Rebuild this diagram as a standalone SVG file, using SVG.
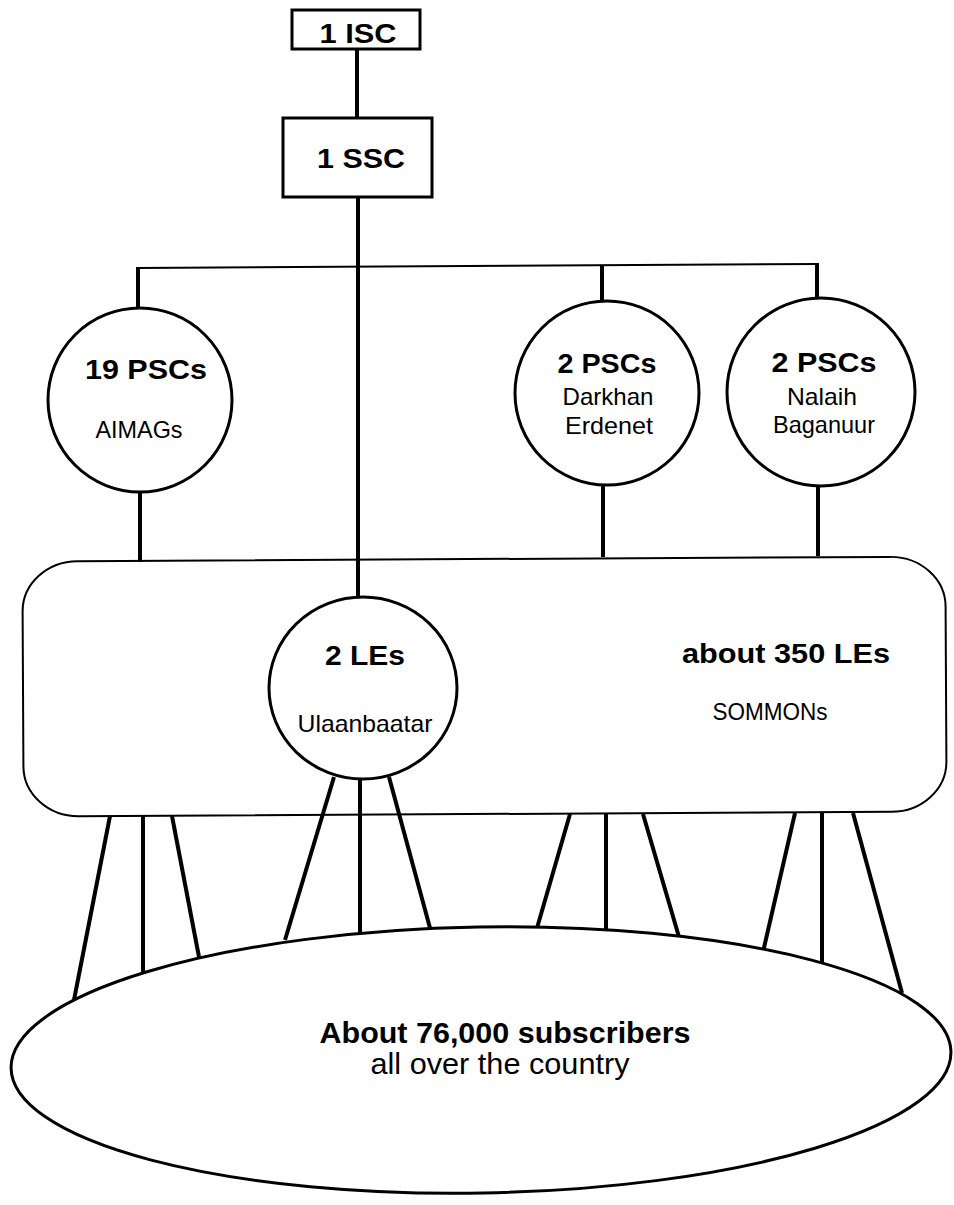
<svg xmlns="http://www.w3.org/2000/svg" width="954" height="1205" viewBox="0 0 954 1205">
<style>
.box{fill:#fff;stroke:#000;stroke-width:3}
.node{fill:#fff;stroke:#000;stroke-width:3}
.area{fill:none;stroke:#000;stroke-width:2}
.conn{stroke:#000;stroke-width:4;fill:none;stroke-linecap:butt}
.bus{stroke:#000;stroke-width:2;fill:none}
text{font-family:"Liberation Sans",Arial,Helvetica,sans-serif;fill:#000;text-anchor:middle}
.b{font-weight:bold;font-size:28px}
.r{font-size:24px}
.big{font-size:29px}
</style>
<rect width="954" height="1205" fill="#fff"/>
<g id="connectors">
<line class="conn" x1="357" y1="49" x2="357" y2="118"/>
<line class="conn" x1="358" y1="197" x2="358" y2="597"/>
<line class="bus" x1="138" y1="268" x2="819" y2="264"/>
<line class="conn" x1="138" y1="267" x2="138" y2="309"/>
<line class="conn" x1="602" y1="265" x2="602" y2="301"/>
<line class="conn" x1="817" y1="264" x2="817" y2="299"/>
<line class="conn" x1="140" y1="491" x2="140" y2="562"/>
<line class="conn" x1="603" y1="486" x2="603" y2="557"/>
<line class="conn" x1="818" y1="486" x2="818" y2="556"/>
<line class="conn" x1="110" y1="816" x2="74" y2="1000"/>
<line class="conn" x1="143" y1="816" x2="143" y2="973"/>
<line class="conn" x1="172" y1="816" x2="199" y2="957"/>
<line class="conn" x1="334" y1="777" x2="285" y2="940"/>
<line class="conn" x1="360" y1="779" x2="360" y2="933"/>
<line class="conn" x1="389" y1="777" x2="430" y2="928"/>
<line class="conn" x1="570" y1="814" x2="537" y2="928"/>
<line class="conn" x1="606" y1="814" x2="606" y2="932"/>
<line class="conn" x1="643" y1="814" x2="679" y2="937"/>
<line class="conn" x1="795" y1="813" x2="763" y2="952"/>
<line class="conn" x1="822" y1="813" x2="822" y2="968"/>
<line class="conn" x1="853" y1="813" x2="902" y2="993"/>
</g>
<g id="isc">
<rect class="box" x="292" y="10" width="128" height="39"/>
<text class="b" x="358" y="43" textLength="77" lengthAdjust="spacingAndGlyphs">1 ISC</text>
</g>
<g id="ssc">
<rect class="box" x="283" y="118" width="149" height="79"/>
<text class="b" x="361" y="168" textLength="88" lengthAdjust="spacingAndGlyphs">1 SSC</text>
</g>
<g id="psc-aimags">
<circle class="node" cx="140" cy="400" r="92"/>
<text class="b" x="146" y="379" textLength="122" lengthAdjust="spacingAndGlyphs">19 PSCs</text>
<text class="r" x="139" y="438" textLength="87" lengthAdjust="spacingAndGlyphs">AIMAGs</text>
</g>
<g id="psc-darkhan">
<circle class="node" cx="607" cy="393" r="92"/>
<text class="b" x="607" y="373" textLength="99" lengthAdjust="spacingAndGlyphs">2 PSCs</text>
<text class="r" x="608" y="405" textLength="91" lengthAdjust="spacingAndGlyphs">Darkhan</text>
<text class="r" x="609" y="434" textLength="88" lengthAdjust="spacingAndGlyphs">Erdenet</text>
</g>
<g id="psc-nalaih">
<circle class="node" cx="821" cy="392" r="94"/>
<text class="b" x="824" y="372" textLength="105" lengthAdjust="spacingAndGlyphs">2 PSCs</text>
<text class="r" x="822" y="405" textLength="70" lengthAdjust="spacingAndGlyphs">Nalaih</text>
<text class="r" x="824" y="433" textLength="102" lengthAdjust="spacingAndGlyphs">Baganuur</text>
</g>
<g id="les-sommons">
<rect class="area" x="23" y="559" width="923" height="255" rx="55" ry="50" transform="rotate(-0.3 485 686)"/>
<text class="b" x="786" y="663" textLength="208" lengthAdjust="spacingAndGlyphs">about 350 LEs</text>
<text class="r" x="770" y="720" textLength="115" lengthAdjust="spacingAndGlyphs">SOMMONs</text>
</g>
<g id="le-ulaanbaatar">
<ellipse class="node" cx="363" cy="688" rx="94" ry="91"/>
<text class="b" x="365" y="665" textLength="80" lengthAdjust="spacingAndGlyphs">2 LEs</text>
<text class="r" x="365" y="732" textLength="135" lengthAdjust="spacingAndGlyphs">Ulaanbaatar</text>
</g>
<g id="subscribers">
<ellipse class="node" cx="481" cy="1060" rx="470" ry="133" transform="rotate(-1 481 1060)"/>
<text class="b big" x="505" y="1043" textLength="371" lengthAdjust="spacingAndGlyphs">About 76,000 subscribers</text>
<text class="big" x="500" y="1074" textLength="259" lengthAdjust="spacingAndGlyphs">all over the country</text>
</g>
</svg>
